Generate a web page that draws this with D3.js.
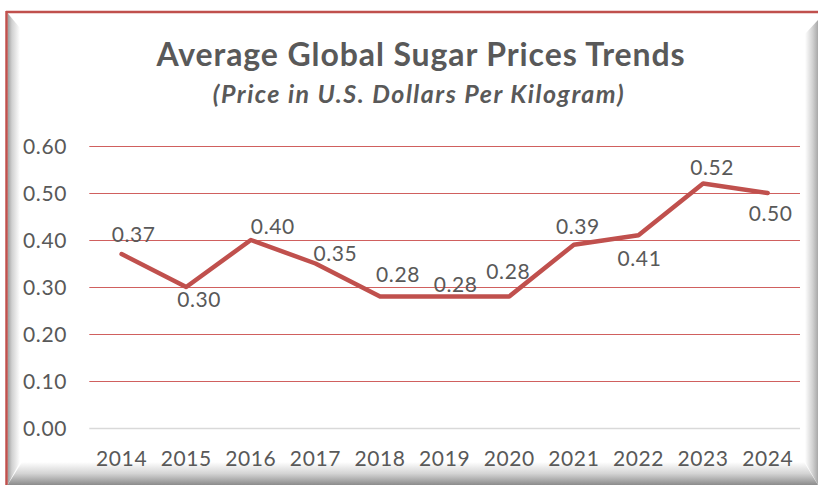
<!DOCTYPE html>
<html><head><meta charset="utf-8">
<script src="https://cdn.jsdelivr.net/npm/d3@7"></script>
<style>html,body{margin:0;padding:0;background:#fff;}svg{display:block;}</style>
</head><body>
<script>
const years = ["2014","2015","2016","2017","2018","2019","2020","2021","2022","2023","2024"];
const prices = [0.37,0.30,0.40,0.35,0.28,0.28,0.28,0.39,0.41,0.52,0.50];
const yTicks = [0.00,0.10,0.20,0.30,0.40,0.50,0.60];
const titleText = "Average Global Sugar Prices Trends";
const subtitleText = "(Price in U.S. Dollars Per Kilogram)";
// label nudges (px) relative to each point, as placed in the original
const labelNudge = [[12,-19],[13,13],[22,-13],[20,-10],[18,-22],[11,-12],[-1,-25],[4,-18],[1,23],[9,-16],[3,21]];

const W = 818, H = 485;
const svg = d3.select("body").append("svg").attr("width", W).attr("height", H);
const defs = svg.append("defs");
function grad(id, x1,y1,x2,y2, stops){
  const g = defs.append("linearGradient").attr("id", id)
    .attr("x1",x1).attr("y1",y1).attr("x2",x2).attr("y2",y2);
  stops.forEach(s => g.append("stop").attr("offset", s[0]).attr("stop-color", s[1]));
}
grad("gl","0","0","1","0",[[0,"#9a9a9a"],[0.35,"#d0d0d0"],[1,"#ffffff"]]);
grad("gr","0","0","1","0",[[0,"#ffffff"],[0.6,"#d0d0d0"],[1,"#a8a8a8"]]);
grad("gb","0","0","0","1",[[0,"#ffffff"],[0.5,"#d4d4d4"],[1,"#8c8c8c"]]);

svg.append("rect").attr("width", W).attr("height", H).attr("fill", "#fff");
// bevel frame
svg.append("polygon").attr("points","7.5,13 20,28 20,462 7.5,485").attr("fill","url(#gl)");
svg.append("polygon").attr("points","818,20 805,34 805,462 818,485").attr("fill","url(#gr)");
svg.append("polygon").attr("points","7.5,485 22,462 804,462 818,485").attr("fill","url(#gb)");
svg.append("line").attr("x1",6).attr("x2",W).attr("y1",12).attr("y2",12).attr("stroke","#C0504D").attr("stroke-width",2.5);
svg.append("line").attr("x1",6.5).attr("x2",6.5).attr("y1",11).attr("y2",H).attr("stroke","#C0504D").attr("stroke-width",2.5);

const textColor = "#595959";
const font = "Lato, 'Open Sans', sans-serif";

svg.append("text").attr("x", 421).attr("y", 66).attr("text-anchor","middle")
  .attr("font-family", font).attr("font-weight","bold").attr("font-size", 32).attr("letter-spacing", 0.9)
  .attr("fill", textColor).text(titleText);
svg.append("text").attr("x", 419).attr("y", 103).attr("text-anchor","middle")
  .attr("font-family", font).attr("font-weight","bold").attr("font-style","italic").attr("font-size", 25).attr("letter-spacing", 1.5)
  .attr("fill", textColor).text(subtitleText);

const x = d3.scaleBand().domain(years).range([89.3, 800]);
const y = d3.scaleLinear().domain([0, 0.6]).range([428, 146]);

// gridlines
svg.append("g").selectAll("line").data(yTicks).join("line")
  .attr("x1", 89.3).attr("x2", 800)
  .attr("y1", d => Math.round(y(d)) + 0.5).attr("y2", d => Math.round(y(d)) + 0.5)
  .attr("stroke", d => d === 0 ? "#d9d9d9" : "#D0605E").attr("stroke-width", d => d === 0 ? 1.5 : 1);

const numSize = 21, numSpacing = 0.6;
// y axis
const yAxis = svg.append("g").attr("transform","translate(67,0)")
  .call(d3.axisLeft(y).tickValues(yTicks).tickFormat(d3.format(".2f")).tickSize(0).tickPadding(0));
yAxis.select(".domain").remove();
yAxis.selectAll("text").attr("font-family", font).attr("font-size", numSize).attr("letter-spacing", numSpacing)
  .attr("fill", textColor).attr("dy","0.35em");

// x axis
const xAxis = svg.append("g").attr("transform","translate(0,428)")
  .call(d3.axisBottom(x).tickSize(0).tickPadding(23));
xAxis.select(".domain").remove();
xAxis.selectAll("text").attr("font-family", font).attr("font-size", numSize).attr("letter-spacing", numSpacing).attr("fill", textColor);

// line
const line = d3.line().x((d,i) => x(years[i]) + x.bandwidth()/2).y(d => y(d));
svg.append("path").datum(prices).attr("d", line).attr("fill","none")
  .attr("stroke","#C0504D").attr("stroke-width",4.5).attr("stroke-linejoin","round").attr("stroke-linecap","round");

// data labels
svg.append("g").selectAll("text").data(prices).join("text")
  .attr("x", (d,i) => x(years[i]) + x.bandwidth()/2 + labelNudge[i][0])
  .attr("y", (d,i) => y(d) + labelNudge[i][1])
  .attr("dy","0.35em").attr("text-anchor","middle")
  .attr("font-family", font).attr("font-size", numSize).attr("letter-spacing", numSpacing).attr("fill", textColor)
  .text(d => d3.format(".2f")(d));
</script>
</body></html>
